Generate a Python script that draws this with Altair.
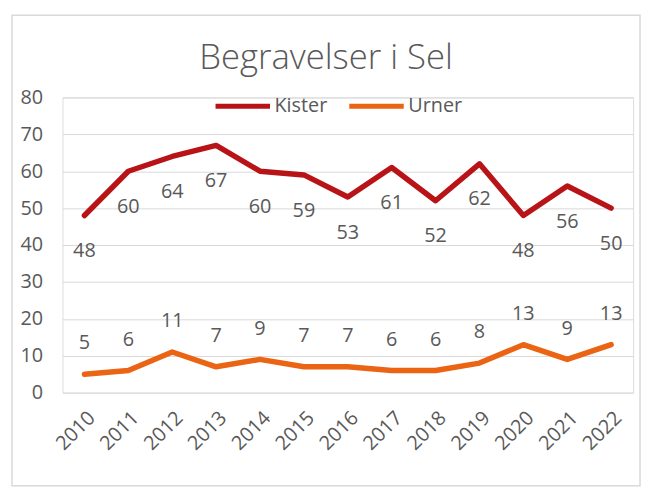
import altair as alt
import pandas as pd

years = [str(y) for y in range(2010, 2023)]
kister = [48, 60, 64, 67, 60, 59, 53, 61, 52, 62, 48, 56, 50]
urner = [5, 6, 11, 7, 9, 7, 7, 6, 6, 8, 13, 9, 13]
series = ["Kister", "Urner"]
colors = ["#B81418", "#EB6414"]
y_ticks = [0, 10, 20, 30, 40, 50, 60, 70, 80]
title_text = ["Begravelser i Sel"]

FONT = "Open Sans"
GREY = "#595959"
FS = 20

df = pd.DataFrame({
    "År": years * 2,
    "Antall": kister + urner,
    "Type": ["Kister"] * len(kister) + ["Urner"] * len(urner),
})

x = alt.X("År:N", sort=years,
          axis=alt.Axis(title=None, labelAngle=-45, labelFontSize=FS, labelColor=GREY,
                        labelFont=FONT, domain=False, ticks=False, grid=False,
                        labelPadding=15))
y = alt.Y("Antall:Q", scale=alt.Scale(domain=[0, 80], nice=False),
          axis=alt.Axis(title=None, values=y_ticks, labelFontSize=FS, labelColor=GREY,
                        labelFont=FONT, domain=False, ticks=False, grid=True,
                        gridColor="#d9d9d9", gridWidth=1, labelPadding=20))
color = alt.Color("Type:N", scale=alt.Scale(domain=series, range=colors),
                  legend=alt.Legend(title=None, orient="none", direction="horizontal",
                                    legendX=152, legendY=-21, symbolType="stroke",
                                    symbolSize=3025, symbolStrokeWidth=5,
                                    labelFontSize=FS, labelColor=GREY, labelFont=FONT,
                                    labelOffset=2, columnPadding=11))

base = alt.Chart(df)

lines = base.mark_line(strokeWidth=5.5, strokeCap="round", strokeJoin="round").encode(
    x=x, y=y, color=color)

lab_k = base.transform_filter(alt.datum.Type == "Kister").mark_text(
    dy=36, fontSize=FS, font=FONT, color=GREY, baseline="middle").encode(
    x=x, y=y, text="Antall:Q")
lab_u = base.transform_filter(alt.datum.Type == "Urner").mark_text(
    dy=-31, fontSize=FS, font=FONT, color=GREY, baseline="middle").encode(
    x=x, y=y, text="Antall:Q")

border = alt.Chart(pd.DataFrame({"b": [0]})).mark_rect(
    filled=False, stroke="#d9d9d9", strokeWidth=1.5, clip=False).encode(
    x=alt.value(-51), x2=alt.value(583), y=alt.value(-83), y2=alt.value(392))

title = alt.Chart(pd.DataFrame({"t": title_text})).mark_text(
    fontSize=35, font=FONT, fontWeight=300, color=GREY, align="center",
    baseline="alphabetic").encode(
    x=alt.value(266), y=alt.value(-29), text="t:N")

chart = alt.layer(border, title, lines, lab_k, lab_u).properties(
    width=576, height=298,
    autosize=alt.AutoSizeParams(type="none"),
    padding={"left": 55, "top": 88, "right": 10, "bottom": 93},
).configure_view(stroke=None).configure(background="white")

chart.save("out.html", embed_options={"renderer": "svg", "actions": False})
